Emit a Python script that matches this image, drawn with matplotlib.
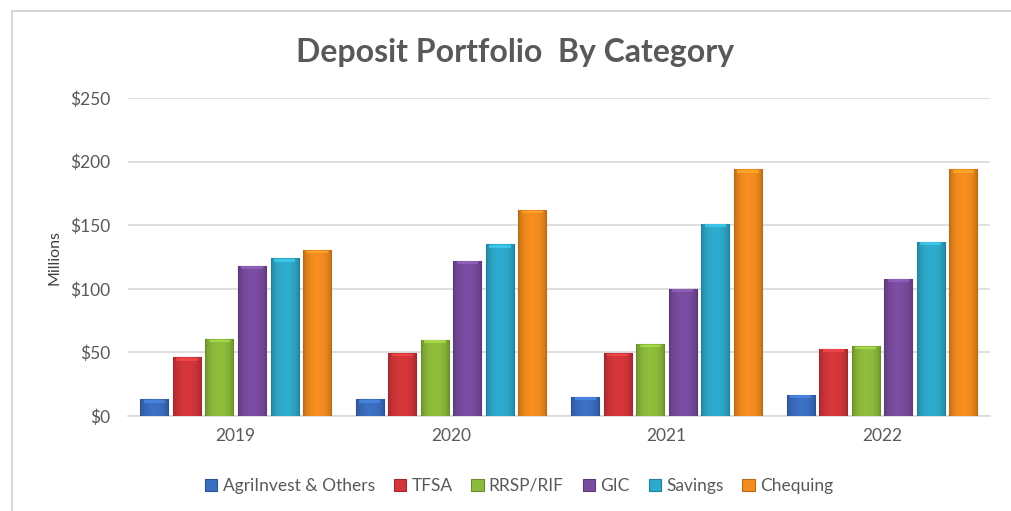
import numpy as np
import matplotlib.pyplot as plt
import matplotlib.colors as mcolors
from matplotlib.patches import Rectangle

plt.rcParams["font.family"] = ["Lato", "DejaVu Sans"]

years = ["2019", "2020", "2021", "2022"]
series = ["AgriInvest & Others", "TFSA", "RRSP/RIF", "GIC", "Savings", "Chequing"]
agri = [13, 13, 15, 16.5]
tfsa = [46, 49.5, 49.5, 53]
rrsp = [60.5, 60, 56.5, 55]
gic = [118, 122, 100, 108]
savings = [124, 135, 151, 137]
chequing = [130.5, 162, 194, 194]
values = [agri, tfsa, rrsp, gic, savings, chequing]
colors = ["#3A6EC0", "#D3363A", "#8DBB3B", "#7A4C9F", "#2EAACB", "#F38C1E"]

fig = plt.figure(figsize=(10.12, 5.11), dpi=100)
ax = fig.add_axes([0.1265, 0.186, 0.8515, 0.622])

# chart border
fig.patches.append(Rectangle((0.012, -0.01), 1.0, 0.988, transform=fig.transFigure,
                             fill=False, edgecolor="#D0D0D0", linewidth=1.2))

x = np.arange(len(years))
slot = 0.151
width = 0.13
for i, (name, vals, c) in enumerate(zip(series, values, colors)):
    offs = (i - 2.5) * slot
    base = np.array(mcolors.to_rgb(c))
    bars = ax.bar(x + offs, vals, width, color=c, label=name,
                  edgecolor=base * 0.75, linewidth=0.8, zorder=3)
    # horizontal shading for the bevel look
    t = np.linspace(0, 1, 64)
    shade = 0.72 + 0.3 * np.sin(np.pi * t) ** 0.5
    img = np.clip(base[None, :] * shade[:, None], 0, 1)[None, :, :]
    for b in bars:
        bx, bw, bh = b.get_x(), b.get_width(), b.get_height()
        im = ax.imshow(img, extent=(bx, bx + bw, 0, bh), aspect="auto", zorder=3.5,
                       interpolation="bilinear")
        im.set_clip_path(b)
        # lighter rounded top
        ax.add_patch(Rectangle((bx + bw * 0.12, bh - 2.6), bw * 0.76, 2.2,
                               facecolor=np.clip(base * 1.2 + 0.05, 0, 1), edgecolor="none",
                               alpha=0.6, zorder=3.6))

ax.set_xlim(-0.5, 3.5)
ax.set_ylim(0, 250)
ax.set_yticks(range(0, 251, 50))
ax.set_yticklabels([f"${v}" for v in range(0, 251, 50)])
ax.set_xticks(x)
ax.set_xticklabels(years)
ax.tick_params(axis="both", length=0, labelsize=12.5, colors="#595959")
ax.tick_params(axis="x", pad=9)
ax.tick_params(axis="y", pad=13)
ax.grid(axis="y", color="#D9D9D9", linewidth=1.2, zorder=0)
for s in ["top", "right", "left"]:
    ax.spines[s].set_visible(False)
ax.spines["bottom"].set_color("#D9D9D9")
ax.spines["bottom"].set_linewidth(1.2)

ax.set_ylabel("Millions", fontsize=11.5, color="#404040")
ax.yaxis.set_label_coords(-0.077, 0.5)

fig.text(0.509, 0.898, "Deposit Portfolio  By Category", ha="center", va="center",
         fontsize=23, fontweight="bold", color="#595959")

handles, labels = ax.get_legend_handles_labels()
fig.legend(handles, labels, loc="center", bbox_to_anchor=(0.513, 0.049), ncol=6,
           frameon=False, fontsize=12.5, handlelength=0.7, handleheight=0.7,
           handletextpad=0.3, columnspacing=1.1, labelcolor="#595959")

plt.savefig("out.png", dpi=100)
